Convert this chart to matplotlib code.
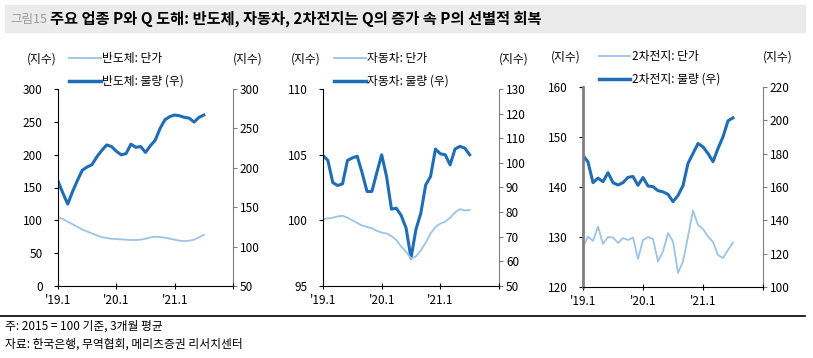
import matplotlib
matplotlib.use("Agg")
import matplotlib.pyplot as plt
from matplotlib.lines import Line2D

plt.rcParams['font.family'] = ['Noto Sans CJK KR', 'DejaVu Sans']
plt.rcParams['axes.unicode_minus'] = False

# 월별 지수 (2019.1 ~ 2021.7)
months = list(range(31))
xtick_pos = [0, 12, 24, 36]
xtick_labels = ["'19.1", "'20.1", "'21.1", ""]

semi_price = [105, 102, 98, 94, 90, 86, 83, 80, 77, 74.5, 73, 72, 71.5, 71, 70.5, 70,
              70, 70.5, 72, 74, 75, 74.5, 73.5, 72, 70.5, 69, 68.5, 69, 70.5, 74, 78]
semi_vol = [183, 168, 154, 170, 184, 197, 201, 204, 214, 222, 229, 227, 221, 216.5, 218, 230,
            226, 227, 219.5, 228, 235, 250, 261, 265, 267, 266, 264, 263, 258, 264, 267]

auto_price = [100.1, 100.15, 100.2, 100.3, 100.35, 100.2, 100.0, 99.8, 99.6, 99.5, 99.4,
              99.2, 99.07, 99.0, 98.8, 98.5, 98.0, 97.6, 97.1, 97.25, 97.7, 98.3, 99.0, 99.5,
              99.75, 99.9, 100.2, 100.6, 100.85, 100.75, 100.8]
auto_vol = [103, 101, 92, 90.8, 91.5, 101, 102, 102.7, 96, 88.4, 88.4, 96, 103.3, 94.5, 81.2,
            81.6, 78.6, 73.5, 61.3, 72.9, 79.5, 91, 94.5, 105.6, 103.7, 103.3, 99.2, 105.6,
            106.7, 106, 103.3]

batt_price = [128, 130.1, 129.2, 132.1, 128.6, 130, 129.9, 128.8, 129.8, 129.4, 129.9, 125.6,
              129.4, 130, 129.6, 125.1, 127.1, 130.8, 129.1, 122.8, 125.1, 130.1, 135.3, 132.4,
              131.6, 130.1, 129.0, 126.4, 125.8, 127.4, 128.9]
batt_vol = [179, 175, 162.6, 165.3, 163.2, 168.6, 162.6, 161.2, 162.6, 165.8, 166.3, 161, 165.7,
            160.6, 160.2, 157.8, 157.1, 155.6, 151.2, 154.9, 160.8, 174.2, 180.1, 186.1, 184.1,
            180.1, 175.2, 183.1, 190.1, 199.7, 201.5]

panels = [
    ("반도체", semi_price, semi_vol, (0, 300, 50), (50, 300, 50)),
    ("자동차", auto_price, auto_vol, (95, 110, 5), (50, 130, 10)),
    ("2차전지", batt_price, batt_vol, (120, 160, 10), (100, 220, 20)),
]

light = '#9dc3e6'
dark = '#1f6db5'
fs = 8.5

fig = plt.figure(figsize=(8.13, 3.58), dpi=100)

# 제목 바
fig.patches.append(plt.Rectangle((5 / 813, 1 - 32 / 358), 800 / 813, 27 / 358,
                                 transform=fig.transFigure, color='#ebebeb', zorder=0))
fig.text(10 / 813, 1 - 19 / 358, "그림15", color='#9a9a9a', fontsize=9, va='center')
fig.text(50 / 813, 1 - 19 / 358, "주요 업종 P와 Q 도해: 반도체, 자동차, 2차전지는 Q의 증가 속 P의 선별적 회복",
         fontsize=11, fontweight='bold', va='center')

rects = [(58, 89, 233, 286), (323, 89, 499, 286), (583, 87, 763, 287)]
leg_x = [0.055, 0.055, 0.08]

for (name, price, vol, lrng, rrng), (x0, y0, x1, y1), lx in zip(panels, rects, leg_x):
    ax = fig.add_axes([x0 / 813, 1 - y1 / 358, (x1 - x0) / 813, (y1 - y0) / 358])
    ax2 = ax.twinx()
    ax.plot(months, price, color=light, lw=1.3, zorder=2)
    ax2.plot(months, vol, color=dark, lw=2.2, zorder=3)

    ax.set_xlim(0, 36)
    ax.set_ylim(lrng[0], lrng[1])
    ax.set_yticks(range(lrng[0], lrng[1] + 1, lrng[2]))
    ax2.set_ylim(rrng[0], rrng[1])
    ax2.set_yticks(range(rrng[0], rrng[1] + 1, rrng[2]))
    ax.set_xticks(xtick_pos)
    ax.set_xticklabels(xtick_labels)

    for a in (ax, ax2):
        a.spines['top'].set_visible(False)
    ax.spines['right'].set_visible(False)
    ax2.spines['left'].set_visible(False)
    ax2.spines['bottom'].set_visible(False)
    ax.spines['left'].set_color('black')
    ax.spines['left'].set_linewidth(0.8)
    if name == "2차전지":
        ax.spines['left'].set_color('#808080')
        ax.spines['left'].set_linewidth(2)
    ax.spines['bottom'].set_color('black')
    ax.spines['bottom'].set_linewidth(0.8)
    ax2.spines['right'].set_color('#808080')
    ax2.spines['right'].set_linewidth(0.8)

    ax.tick_params(axis='y', direction='out', length=3, width=0.8, labelsize=fs, pad=8)
    ax.tick_params(axis='x', direction='inout', length=5, width=0.8, labelsize=fs, pad=3)
    ax2.tick_params(axis='y', direction='out', length=3, width=0.8, color='#808080',
                    labelsize=fs, pad=2)
    ax.set_zorder(ax2.get_zorder() + 1)
    ax.patch.set_visible(False)

    # 단위 표시
    ax.text(-0.18, 1.15, "(지수)", transform=ax.transAxes, fontsize=fs, ha='left', va='center')
    ax2.text(1.0, 1.15, "(지수)", transform=ax2.transAxes, fontsize=fs, ha='left', va='center')

    handles = [Line2D([], [], color=light, lw=1.3), Line2D([], [], color=dark, lw=2.5)]
    ax.legend(handles, [f"{name}: 단가", f"{name}: 물량 (우)"], loc='lower left',
              bbox_to_anchor=(lx, 1.0), frameon=False, fontsize=fs, handlelength=2.7,
              handletextpad=0.1, labelspacing=0.85, borderaxespad=0, borderpad=0.1)

# 하단 구분선과 주석
fig.add_artist(Line2D([0, 805 / 813], [1 - 316 / 358, 1 - 316 / 358], color='black', lw=1.2))
fig.text(5 / 813, 1 - 326 / 358, "주: 2015 = 100 기준, 3개월 평균", fontsize=8.5, va='center')
fig.text(5 / 813, 1 - 344 / 358, "자료: 한국은행, 무역협회, 메리츠증권 리서치센터", fontsize=8.5, va='center')

fig.savefig("out.png", dpi=100)
